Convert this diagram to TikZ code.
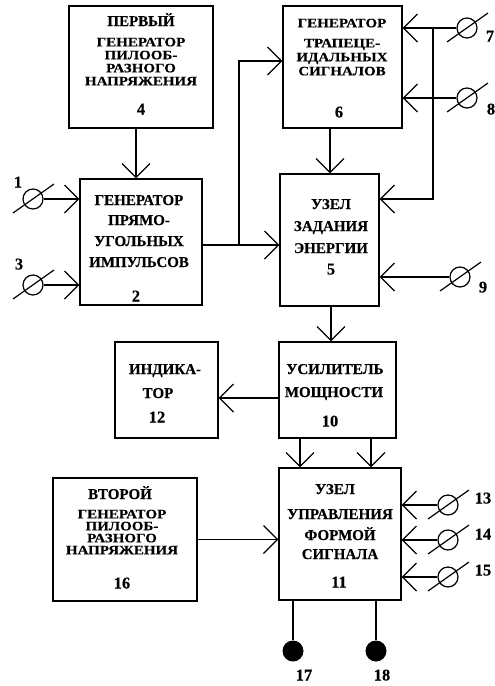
\documentclass[tikz,border=0pt]{standalone}
\usepackage{fontspec}
\usepackage{graphicx}
\setmainfont{Liberation Serif}
\newfontfamily\lbf[FakeBold=0.25]{Liberation Serif}
\newcommand{\squash}[1]{\scalebox{1}[0.86]{#1}}
\usetikzlibrary{arrows.meta}
\begin{document}
\begin{tikzpicture}[x=1pt,y=-1pt,
  box/.style={draw, line width=1.3pt, inner sep=0},
  txt/.style={font=\lbf\bfseries\fontsize{15}{15}\selectfont, inner sep=0, text height=10pt, text depth=0pt},
  tight/.style={txt, text height=8.6pt},
  num/.style={font=\lbf\bfseries\fontsize{16.5}{16.5}\selectfont, inner sep=0, text height=11pt, text depth=0pt},
  arr/.style={line width=1.2pt, -{Straight Barb[length=14pt,width=28pt,line width=1.2pt]}},
  wire/.style={line width=1.2pt},
  term/.style={circle, draw, line width=1.2pt, minimum size=20pt, inner sep=0},
  slash/.style={line width=1.2pt},
  dot/.style={circle, fill, minimum size=21pt, inner sep=0}]
\useasboundingbox (0,0) rectangle (495,686);
% boxes
\node[box, minimum width=144pt, minimum height=122pt] (b4) at (141,67) {};
\node[box, minimum width=119pt, minimum height=122pt] (b6) at (342.5,67) {};
\node[box, minimum width=122pt, minimum height=126pt] (b2) at (141,242) {};
\node[box, minimum width=99pt, minimum height=132pt] (b5) at (329.5,240) {};
\node[box, minimum width=103pt, minimum height=96pt] (b12) at (166.5,390) {};
\node[box, minimum width=117pt, minimum height=96pt] (b10) at (337.5,390) {};
\node[box, minimum width=144pt, minimum height=123pt] (b16) at (125,539.5) {};
\node[box, minimum width=122pt, minimum height=132pt] (b11) at (340,534) {};
% texts
\node[txt] (b4t1) at (141,21) {ПЕРВЫЙ};
\foreach \t/\y [count=\i from 2] in {ГЕНЕРАТОР/42, ПИЛООБ-/55, РАЗНОГО/68, НАПРЯЖЕНИЯ/81}
  \node[tight] (b4t\i) at (141,\y) {\squash{\t}};
\node[num] (b4n) at (141,109) {4};
\foreach \t/\y [count=\i] in {ГЕНЕРАТОР/23, ТРАПЕЦЕ-/43, ИДАЛЬНЫХ/57, СИГНАЛОВ/71}
  \node[tight] (b6t\i) at (342,\y) {\squash{\t}};
\node[num] (b6n) at (339,112) {6};
\foreach \t/\y [count=\i] in {ГЕНЕРАТОР/200, ПРЯМО-/220, УГОЛЬНЫХ/241, ИМПУЛЬСОВ/262}
  \node[txt] (b2t\i) at (139,\y) {\t};
\node[num] (b2n) at (136,296) {2};
\foreach \t/\y [count=\i] in {УЗЕЛ/204, ЗАДАНИЯ/226, ЭНЕРГИИ/248}
  \node[txt] (b5t\i) at (331,\y) {\t};
\node[num] (b5n) at (331,269) {5};
\node[txt] (b12t1) at (165,369) {ИНДИКА-};
\node[txt] (b12t2) at (158,393) {ТОР};
\node[num] (b12n) at (157,417) {12};
\node[txt] (b10t1) at (335,369) {УСИЛИТЕЛЬ};
\node[txt] (b10t2) at (334,392) {МОЩНОСТИ};
\node[num] (b10n) at (330,421) {10};
\node[txt] (b16t1) at (120,494) {ВТОРОЙ};
\foreach \t/\y [count=\i from 2] in {ГЕНЕРАТОР/514, ПИЛООБ-/526, РАЗНОГО/538, НАПРЯЖЕНИЯ/550}
  \node[tight] (b16t\i) at (122,\y) {\squash{\t}};
\node[num] (b16n) at (122,583) {16};
\node[txt] (b11t1) at (335,489) {УЗЕЛ};
\foreach \t/\y [count=\i from 2] in {УПРАВЛЕНИЯ/514, ФОРМОЙ/535, СИГНАЛА/554}
  \node[txt] (b11t\i) at (340,\y) {\t};
\node[num] (b11n) at (339,582) {11};
% terminals
\foreach \n/\x/\y in {1/33/199, 3/33/285, 7/467/28, 8/467/98, 9/460/277, 13/448/505, 14/448/540, 15/448/577}{
  \node[term] (t\n) at (\x,\y) {};
  \draw[slash] ([shift={(-20pt,-14pt)}]t\n.center) -- ([shift={(21pt,15pt)}]t\n.center);
}
\node[dot] (d17) at (293,651) {};
\node[dot] (d18) at (376,651) {};
% terminal labels
\node[num] (l1) at (18,182) {1};
\node[num] (l3) at (19,264) {3};
\node[num] (l7) at (490,36) {7};
\node[num] (l8) at (491,109) {8};
\node[num] (l9) at (483,287) {9};
\node[num] (l13) at (483,498) {13};
\node[num] (l14) at (483,534) {14};
\node[num] (l15) at (483,570) {15};
\node[num] (l17) at (304,675) {17};
\node[num] (l18) at (382,675) {18};
% connectors
\draw[arr] ([xshift=-5pt]b4.south) -- ([xshift=-5pt]b2.north);
\draw[arr] ([yshift=-3pt]b2.east) coordinate (o2) -- (o2 -| b5.west);
\coordinate (j2) at (239,245);
\draw[arr] (j2) |- ([yshift=6pt]b6.west);
\draw[arr] ([xshift=-12.5pt]b6.south) -- ([xshift=-12.5pt]b6.south |- b5.north);
\draw[arr] (t7.west) -- (t7 -| b6.east);
\draw[arr] (t8.west) -- (t8 -| b6.east);
\coordinate (bus7) at (433,28);
\draw[arr] (bus7) |- ([yshift=41pt]b5.east);
\draw[arr] (t9.west) -- (t9 -| b5.east);
\draw[arr] (t1.east) -- (t1 -| b2.west);
\draw[arr] (t3.east) -- (t3 -| b2.west);
\draw[arr] ([xshift=1.5pt]b5.south) -- ([xshift=1.5pt]b5.south |- b10.north);
\draw[arr] ([yshift=-8pt]b10.west) -- ([yshift=-8pt]b10.west -| b12.east);
\draw[arr] ([xshift=-37.5pt]b10.south) -- ([xshift=-37.5pt]b10.south |- b11.north);
\draw[arr] ([xshift=33.5pt]b10.south) -- ([xshift=33.5pt]b10.south |- b11.north);
\draw[arr] (b16.east) -- (b16.east -| b11.west);
\draw[arr] (t13.west) -- (t13 -| b11.east);
\draw[arr] (t14.west) -- (t14 -| b11.east);
\draw[arr] (t15.west) -- (t15 -| b11.east);
\draw[wire] (d17.north) -- (d17 |- b11.south);
\draw[wire] (d18.north) -- (d18 |- b11.south);
\end{tikzpicture}
\end{document}
